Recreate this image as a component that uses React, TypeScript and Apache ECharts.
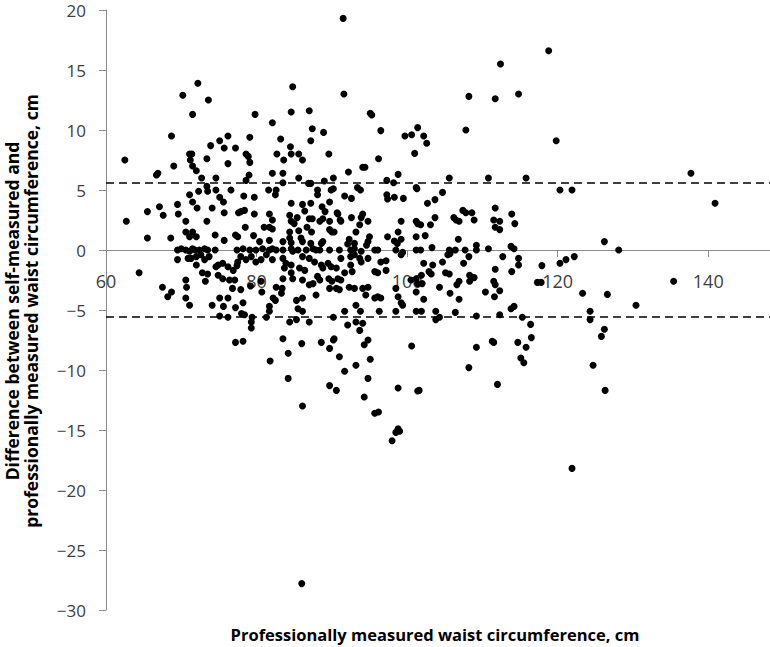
import React, { useEffect, useRef } from "react";
import * as echarts from "echarts";

// Professionally measured waist circumference (cm) vs. difference (self - professional, cm)
const xTickValues = [60, 80, 100, 120, 140];
const limitsOfAgreement = [5.6, -5.6];

const upperLeft: [number, number][] = [
  [62.5, 7.5], [62.7, 2.4], [65.5, 1.0], [65.5, 3.2], [66.7, 6.25], [66.9, 6.4], [67.1, 3.6], [67.6, 2.9],
  [68.6, 1.0], [68.7, 9.5], [69.0, 7.0], [69.5, 3.8], [69.6, 3.0], [70.6, 2.4], [70.2, 12.9], [73.6, 12.5],
  [72.2, 13.9], [84.8, 13.6], [71.5, 11.3], [71.1, 8.0], [71.4, 8.0], [71.2, 7.5], [71.5, 7.0], [72.0, 6.6],
  [72.7, 6.0], [73.4, 7.6], [73.9, 8.7], [75.1, 9.1], [75.7, 8.5], [76.2, 9.5], [77.2, 8.5], [76.2, 7.2],
  [74.6, 6.0], [73.4, 5.3], [73.5, 4.9], [72.3, 4.9], [71.1, 4.6], [71.5, 4.0], [72.1, 3.5], [74.6, 5.0],
  [75.1, 4.4], [75.6, 4.0], [75.7, 3.1], [74.1, 3.5], [73.4, 2.4], [76.6, 5.0], [77.6, 3.1], [77.9, 3.2],
  [78.4, 3.3], [78.3, 4.5], [79.7, 4.4], [78.5, 1.9], [79.7, 3.0], [78.6, 8.0], [78.9, 7.8], [79.1, 7.3],
  [79.1, 9.4], [79.8, 11.3], [79.0, 6.25], [78.6, 5.8], [77.2, 1.25], [77.5, 1.1], [75.7, 0.8], [74.5, 1.25],
  [70.6, 1.5], [71.5, 1.5], [71.1, 1.1], [72.0, 1.1], [82.1, 10.6], [83.2, 9.25], [84.6, 11.5], [87.0, 11.6],
  [87.4, 10.1], [87.2, 9.1], [88.9, 9.8], [84.5, 8.6], [84.6, 8.0], [85.6, 8.0], [82.7, 8.0], [83.6, 7.5],
  [86.1, 7.5], [89.6, 8.0], [82.1, 6.4], [83.5, 6.4], [83.5, 5.6], [85.6, 6.0], [86.9, 5.55], [87.2, 5.55],
  [89.0, 5.75], [90.2, 6.0], [81.6, 5.0], [82.6, 5.0], [82.5, 4.6], [88.1, 5.0], [88.1, 4.6], [89.9, 5.0],
  [90.2, 5.1], [84.6, 3.9], [86.1, 3.8], [87.2, 3.9], [88.7, 3.6], [89.7, 4.0], [86.4, 3.25], [84.4, 2.9],
  [85.4, 2.7], [89.1, 3.2], [87.0, 2.6], [87.4, 2.6], [88.4, 2.4], [88.8, 2.6], [89.7, 2.4], [90.8, 3.0],
  [81.7, 3.0], [82.1, 2.5], [81.7, 1.9], [81.0, 1.9], [82.1, 1.75], [84.6, 2.4], [85.0, 2.2], [84.4, 1.5],
  [85.6, 1.6], [86.7, 1.9], [87.3, 1.5], [89.7, 1.7], [90.0, 1.5], [83.5, 0.7], [84.4, 1.0], [84.6, 0.6],
  [85.9, 1.0], [86.1, 0.7], [87.2, 0.55], [88.6, 0.55], [88.8, 0.7], [79.6, 1.2], [80.4, 0.7], [81.7, 0.8],
];

const upperRight: [number, number][] = [
  [91.5, 19.3], [91.6, 13.0], [95.1, 11.4], [95.3, 11.25], [96.5, 9.95], [96.2, 7.6], [99.7, 9.5], [100.6, 9.6],
  [101.4, 10.2], [101.0, 8.05], [102.2, 9.5], [102.6, 8.9], [94.1, 6.9], [94.4, 6.9], [92.2, 6.5], [97.3, 5.8],
  [98.2, 5.6], [98.8, 6.3], [93.4, 5.2], [93.8, 5.0], [91.7, 4.5], [92.6, 4.3], [97.3, 4.6], [97.4, 4.25],
  [98.3, 4.4], [99.5, 4.3], [101.2, 5.2], [101.3, 5.1], [90.7, 3.1], [91.1, 2.5], [91.2, 2.4], [92.6, 2.7],
  [94.1, 3.0], [93.9, 2.7], [94.8, 2.4], [93.7, 2.1], [93.2, 1.5], [90.3, 1.5], [92.3, 0.9], [92.1, 0.5],
  [93.0, 0.55], [95.0, 1.1], [94.8, 0.7], [94.6, 0.4], [97.4, 1.1], [98.8, 1.5], [98.3, 0.75], [99.2, 0.9],
  [98.7, 0.55], [99.2, 2.4], [101.2, 2.4], [101.4, 2.2], [101.8, 2.1], [101.2, 1.1], [108.2, 12.8], [111.7, 12.6],
  [114.8, 13.0], [112.4, 15.5], [118.8, 16.6], [119.8, 9.1], [107.8, 10.0], [105.6, 6.0], [110.8, 6.0], [115.8, 6.0],
  [120.3, 5.0], [121.9, 5.0], [137.7, 6.4], [140.9, 3.9], [126.2, 0.7], [128.1, 0.0], [104.7, 4.8], [103.7, 4.2],
  [102.7, 3.9], [103.7, 2.7], [103.1, 2.1], [102.4, 1.2], [103.3, 0.2], [107.4, 3.3], [107.8, 3.1], [108.6, 3.1],
  [106.2, 2.7], [106.5, 2.5], [106.9, 2.4], [108.9, 2.5], [111.7, 3.5], [111.5, 2.5], [112.3, 2.4], [111.7, 1.9],
  [112.3, 1.7], [113.9, 3.0], [114.3, 2.2], [106.8, 0.9], [109.2, 0.4], [113.8, 0.3], [110.8, 0.1],
];

const nearZero: [number, number][] = [
  [69.5, 0], [70.0, 0.1], [70.6, 0], [71.1, -0.1], [71.5, 0.1], [71.8, 0], [72.4, 0], [73.1, 0.1], [73.5, 0],
  [74.5, 0], [77.4, 0], [78.2, 0.1], [79.1, 0], [79.9, 0], [80.8, 0.1], [81.7, 0], [82.1, 0.1], [82.6, 0],
  [83.5, 0], [84.6, 0.1], [84.8, -0.1], [85.5, 0], [86.6, 0], [87.5, 0.1], [87.9, 0], [88.4, 0], [89.7, 0],
  [91.0, 0], [92.5, 0], [93.0, 0.1], [93.9, -0.1], [95.7, 0], [96.1, 0], [98.5, 0], [99.4, -0.2], [101.2, 0],
  [101.8, 0], [105.6, 0], [106.4, 0], [107.7, 0], [109.2, 0], [114.2, 0.1],
];

const lowerLeft: [number, number][] = [
  [69.5, -0.8], [70.9, -0.7], [71.3, -0.7], [72.0, -0.55], [72.6, -0.4], [73.1, -0.8], [73.7, -0.55], [72.0, -1.25],
  [72.8, -1.9], [73.5, -2.0], [73.2, -2.6], [74.9, -1.25], [74.6, -1.4], [75.5, -1.1], [76.2, -1.4], [74.9, -2.1],
  [75.5, -2.4], [76.9, -1.7], [77.4, -1.3], [77.5, -1.0], [76.4, -2.5], [77.1, -2.5], [76.8, -3.2], [77.9, -3.3],
  [79.2, -3.0], [75.1, -4.0], [76.2, -4.0], [75.6, -4.7], [74.1, -4.6], [75.1, -5.5], [76.2, -5.6], [70.6, -2.5],
  [70.7, -3.1], [70.6, -4.0], [71.1, -4.6], [67.5, -3.1], [68.7, -3.5], [68.2, -3.9], [64.4, -1.9], [77.2, -4.8],
  [78.2, -4.4], [78.0, -5.3], [78.4, -5.4], [79.4, -5.6], [79.3, -6.0], [79.3, -6.5], [77.2, -7.7], [78.2, -7.6],
  [80.7, -3.5], [80.6, -2.6], [81.3, -5.6], [81.7, -4.7], [81.7, -5.1], [82.2, -4.0], [82.5, -4.2], [82.6, -3.1],
  [83.5, -2.4], [83.4, -3.2], [83.3, -3.6], [83.5, -7.4], [84.4, -6.0], [84.2, -8.6], [81.8, -9.25], [84.2, -10.7],
  [84.6, -1.25], [84.6, -1.9], [84.8, -2.4], [83.7, -1.5], [85.3, -4.2], [85.5, -4.9], [86.1, -5.1], [85.3, -5.8],
  [86.1, -4.0], [85.7, -1.5], [86.4, -1.7], [86.1, -2.5], [87.0, -2.9], [87.5, -2.8], [87.9, -3.75], [87.0, -6.0],
  [86.0, -7.8], [88.6, -7.7], [89.7, -8.2], [90.2, -7.5], [89.7, -11.3], [90.6, -11.7], [88.6, -1.25], [88.8, -1.5],
  [89.5, -1.1], [89.9, -1.4], [88.1, -2.2], [88.4, -2.5], [89.6, -2.4], [90.0, -2.6], [89.7, -3.2], [91.0, -3.3],
  [90.2, -5.6], [91.0, -8.9], [82.1, -0.8], [81.3, -0.4], [80.6, -0.8], [83.5, -0.7], [83.9, -1.1], [86.1, -0.55],
  [87.0, -0.7], [87.7, -1.0], [77.9, -0.55], [78.6, -0.8], [79.9, -1.0], [79.3, -0.55], [86.1, -13.0], [86.0, -27.8],
];

const lowerRight: [number, number][] = [
  [98.0, -15.9], [98.8, -14.9], [99.0, -15.1], [98.5, -15.2], [95.7, -13.6], [96.2, -13.5], [94.3, -12.25], [101.4, -11.75],
  [98.8, -11.5], [95.1, -9.1], [91.2, -0.7], [92.5, -0.55], [93.0, -0.4], [93.7, -0.7], [93.9, -1.0], [94.8, -0.7],
  [96.5, -1.0], [97.2, -0.9], [99.2, -0.4], [90.6, -1.5], [90.8, -2.4], [91.2, -2.5], [90.6, -3.2], [91.7, -1.9],
  [92.5, -1.25], [92.7, -1.8], [92.3, -3.1], [93.0, -3.2], [94.1, -3.2], [94.8, -3.1], [94.5, -3.75], [95.7, -4.0],
  [96.1, -3.9], [96.5, -4.0], [93.2, -4.6], [91.7, -5.1], [93.8, -5.1], [93.2, -6.0], [92.1, -6.25], [94.1, -6.1],
  [93.7, -6.7], [94.8, -7.5], [94.3, -7.9], [90.3, -7.4], [91.7, -10.1], [93.2, -9.6], [94.8, -10.7], [96.3, -5.1],
  [98.5, -5.1], [98.8, -3.9], [99.2, -4.4], [99.4, -4.6], [98.5, -3.2], [100.5, -2.5], [101.2, -2.4], [101.4, -2.8],
  [101.2, -3.5], [102.2, -4.1], [101.2, -5.1], [100.6, -8.0], [95.7, -1.8], [96.1, -1.9], [97.2, -1.7],
  [102.2, -1.1], [103.4, -1.25], [104.7, -1.0], [105.4, -0.4], [105.7, -0.3], [105.1, -1.9], [105.6, -2.0], [104.3, -3.1],
  [102.9, -1.8], [103.2, -2.0], [101.9, -2.1], [102.0, -2.8], [101.9, -5.1], [103.8, -5.1], [103.8, -5.8], [104.3, -5.6],
  [105.7, -3.6], [106.9, -2.6], [106.6, -2.9], [106.9, -4.1], [107.5, -1.1], [108.3, -2.1], [108.3, -2.6], [106.4, -5.2],
  [108.9, -2.3], [108.2, -0.55], [109.2, -5.5], [110.4, -3.5], [111.5, -2.6], [111.7, -2.9], [111.7, -1.6], [112.3, -3.4],
  [111.6, -3.9], [112.3, -5.4], [112.7, -0.55], [113.9, -1.8], [114.8, -0.7], [114.8, -1.25], [113.8, -4.9], [114.2, -4.7],
  [115.3, -5.6], [116.4, -6.2], [116.5, -7.3], [115.8, -8.1], [114.7, -7.7], [115.1, -9.0], [115.5, -9.4], [111.3, -7.6],
  [111.5, -7.7], [109.2, -8.1], [108.2, -9.8], [112.0, -11.2], [101.6, -11.7], [117.9, -1.3], [117.3, -2.7], [117.8, -2.7],
  [120.3, -1.1], [121.1, -0.8], [122.2, -0.55], [123.3, -3.6], [124.3, -5.1], [124.3, -5.8], [126.6, -3.7], [126.2, -6.6],
  [125.8, -7.2], [124.7, -9.6], [126.3, -11.7], [121.9, -18.2], [130.4, -4.6], [135.4, -2.6],
];

const yAxisTitle = "Difference between self-measured and\nprofessionally measured waist circumference, cm";
const xAxisTitle = "Professionally measured waist circumference, cm";

const GRID_TOP = 10;
const GRID_HEIGHT = 600;
const Y_MIN = -30;
const Y_MAX = 20;

export default function App() {
  const ref = useRef<HTMLDivElement>(null);
  useEffect(() => {
    if (!ref.current) return;
    const chart = echarts.init(ref.current, null, { renderer: "svg" });
    const data = [...upperLeft, ...upperRight, ...nearZero, ...lowerLeft, ...lowerRight];
    const axisColor = "#8c8c8c";
    const labelFont = "Open Sans";
    // move the x axis (line, ticks, labels) up from the grid bottom to y = 0
    const zeroOffset = -(GRID_HEIGHT * (0 - Y_MIN)) / (Y_MAX - Y_MIN);
    chart.setOption({
      animation: false,
      backgroundColor: "#ffffff",
      grid: { left: 106, right: 0, top: GRID_TOP, height: GRID_HEIGHT, containLabel: false },
      xAxis: {
        type: "value",
        min: 60,
        max: 148.2,
        interval: 20,
        offset: zeroOffset,
        axisLine: { show: true, onZero: false, lineStyle: { color: axisColor, width: 1 } },
        axisTick: { show: true, inside: false, length: 7, lineStyle: { color: axisColor } },
        axisLabel: {
          margin: 22,
          fontSize: 18,
          color: "#404040",
          fontFamily: labelFont,
          showMaxLabel: false,
          formatter: (v: number) => (xTickValues.includes(v) ? String(v) : ""),
        },
        splitLine: { show: false },
      },
      yAxis: {
        type: "value",
        min: Y_MIN,
        max: Y_MAX,
        interval: 5,
        axisLine: { show: true, onZero: false, lineStyle: { color: axisColor, width: 1 } },
        axisTick: { show: true, inside: false, length: 7, lineStyle: { color: axisColor } },
        axisLabel: {
          margin: 20,
          fontSize: 17,
          color: "#404040",
          fontFamily: labelFont,
          formatter: (v: number) => String(v).replace("-", "\u2212"),
        },
        splitLine: { show: false },
      },
      graphic: [
        {
          type: "text",
          x: 435,
          y: 634,
          style: {
            text: xAxisTitle,
            fontSize: 16.5,
            fontWeight: "bold",
            fontFamily: labelFont,
            fill: "#000000",
            textAlign: "center",
            textVerticalAlign: "middle",
          },
        },
        {
          type: "text",
          x: 21,
          y: 311,
          rotation: Math.PI / 2,
          style: {
            text: yAxisTitle,
            fontSize: 17.5,
            fontWeight: "bold",
            fontFamily: labelFont,
            fill: "#000000",
            lineHeight: 19,
            textAlign: "center",
            textVerticalAlign: "middle",
          },
        },
      ],
      series: [
        {
          type: "scatter",
          data,
          symbol: "circle",
          symbolSize: 7,
          itemStyle: { color: "#000000", opacity: 1 },
          markLine: {
            silent: true,
            symbol: ["none", "none"],
            label: { show: false },
            lineStyle: { type: [8, 5], color: "#000000", width: 1.5 },
            data: limitsOfAgreement.map((v) => ({ yAxis: v })),
          },
        },
      ],
    });
    return () => chart.dispose();
  }, []);
  return (
    <div
      ref={ref}
      style={{ position: "fixed", left: 0, top: 0, width: 770, height: 647, background: "#fff" }}
    />
  );
}
